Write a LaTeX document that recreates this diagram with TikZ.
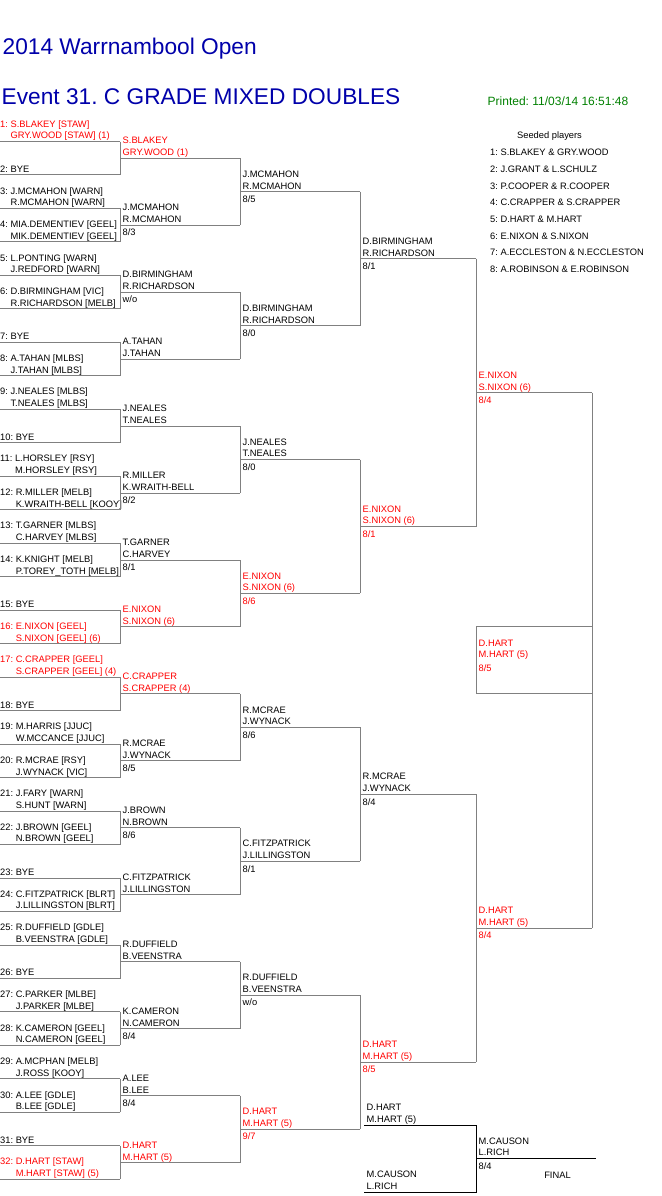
\documentclass[tikz,border=0pt]{standalone}
\usepackage{fontspec}
\setmainfont{Liberation Sans}
\usetikzlibrary{calc}
\frenchspacing

\definecolor{titleblue}{RGB}{0,0,170}
\definecolor{printgreen}{RGB}{0,128,0}
\definecolor{seedred}{RGB}{255,0,0}
\definecolor{linegray}{RGB}{128,128,128}

\tikzset{
  bkt/.style={draw=linegray, line width=1pt},
  finalbkt/.style={draw=black, line width=1pt},
  lbl/.style={anchor=base west, inner sep=0pt, font=\fontsize{9.33}{11}\selectfont},
  seeded/.style={text=seedred},
  heading/.style={anchor=base west, inner sep=0pt, text=titleblue, font=\fontsize{22.7}{26}\selectfont}
}

\newcommand{\drawentry}[4]{%
  \coordinate (r1-#1-w) at (0,{141.5+(#1-1)*33.48});
  \coordinate (r1-#1) at (120,{141.5+(#1-1)*33.48});
  \draw[bkt] (r1-#1-w) -- (r1-#1);
  \node[lbl,#2] (r1-#1-a) at ($(r1-#1-w)+(0,-14.4)$) {#1: #3};
  \node[lbl,#2] (r1-#1-b) at ($(r1-#1-w)+(0,-2.6)$) {\phantom{#1: }#4};}
\newcommand{\drawbye}[1]{%
  \coordinate (r1-#1-w) at (0,{141.5+(#1-1)*33.48});
  \coordinate (r1-#1) at (120,{141.5+(#1-1)*33.48});
  \draw[bkt] (r1-#1-w) -- (r1-#1);
  \node[lbl] (r1-#1-b) at ($(r1-#1-w)+(0,-2.6)$) {#1: BYE};}
\newcommand{\pairlabels}[4]{%
  \node[lbl,#2] (#1-a) at ($(#1-w)+(2.5,-14.4)$) {#3};
  \node[lbl,#2] (#1-b) at ($(#1-w)+(2.5,-2.6)$) {#4};}
\newcommand{\drawwinner}[7]{%
  \draw[bkt] (#2) -- (#3);
  \coordinate (#1-w) at ($(#2)!.5!(#3)$);
  \coordinate (#1) at ($(#1-w)+(#4,0)$);
  \draw[bkt] (#1-w) -- (#1);
  \pairlabels{#1}{#5}{#6}{#7}}
\newcommand{\drawscore}[3]{%
  \node[lbl,#2] (#1-s) at ($(#1-w)+(2.5,10.7)$) {#3};}

\begin{document}
\begin{tikzpicture}[x=1pt,y=-1pt]
  \useasboundingbox (0,0) rectangle (661,1196);

  \node[heading] (title) at (2.5,54.3) {2014 Warrnambool Open};
  \node[heading] (event) at (1.5,105) {Event 31. C GRADE MIXED DOUBLES};
  \node[anchor=base west, inner sep=0pt, text=printgreen, font=\fontsize{12}{14}\selectfont]
    (printed) at (487.5,105.5) {Printed: 11/03/14 16:51:48};

  \node[lbl, anchor=base] (seedhead) at (549.5,138.7) {Seeded players};
  \node[lbl] (seed1) at (490,155.6) {1: S.BLAKEY \& GRY.WOOD};
  \node[lbl] (seed2) at (490,172.3) {2: J.GRANT \& L.SCHULZ};
  \node[lbl] (seed3) at (490,189.0) {3: P.COOPER \& R.COOPER};
  \node[lbl] (seed4) at (490,205.7) {4: C.CRAPPER \& S.CRAPPER};
  \node[lbl] (seed5) at (490,222.4) {5: D.HART \& M.HART};
  \node[lbl] (seed6) at (490,239.1) {6: E.NIXON \& S.NIXON};
  \node[lbl] (seed7) at (490,255.8) {7: A.ECCLESTON \& N.ECCLESTON};
  \node[lbl] (seed8) at (490,272.5) {8: A.ROBINSON \& E.ROBINSON};

  \drawentry{1}{seeded}{S.BLAKEY [STAW]}{GRY.WOOD [STAW] (1)}
  \drawbye{2}
  \drawentry{3}{}{J.MCMAHON [WARN]}{R.MCMAHON [WARN]}
  \drawentry{4}{}{MIA.DEMENTIEV [GEEL]}{MIK.DEMENTIEV [GEEL]}
  \drawentry{5}{}{L.PONTING [WARN]}{J.REDFORD [WARN]}
  \drawentry{6}{}{D.BIRMINGHAM [VIC]}{R.RICHARDSON [MELB]}
  \drawbye{7}
  \drawentry{8}{}{A.TAHAN [MLBS]}{J.TAHAN [MLBS]}
  \drawentry{9}{}{J.NEALES [MLBS]}{T.NEALES [MLBS]}
  \drawbye{10}
  \drawentry{11}{}{L.HORSLEY [RSY]}{M.HORSLEY [RSY]}
  \drawentry{12}{}{R.MILLER [MELB]}{K.WRAITH-BELL [KOOY]}
  \drawentry{13}{}{T.GARNER [MLBS]}{C.HARVEY [MLBS]}
  \drawentry{14}{}{K.KNIGHT [MELB]}{P.TOREY\_TOTH [MELB]}
  \drawbye{15}
  \drawentry{16}{seeded}{E.NIXON [GEEL]}{S.NIXON [GEEL] (6)}
  \drawentry{17}{seeded}{C.CRAPPER [GEEL]}{S.CRAPPER [GEEL] (4)}
  \drawbye{18}
  \drawentry{19}{}{M.HARRIS [JJUC]}{W.MCCANCE [JJUC]}
  \drawentry{20}{}{R.MCRAE [RSY]}{J.WYNACK [VIC]}
  \drawentry{21}{}{J.FARY [WARN]}{S.HUNT [WARN]}
  \drawentry{22}{}{J.BROWN [GEEL]}{N.BROWN [GEEL]}
  \drawbye{23}
  \drawentry{24}{}{C.FITZPATRICK [BLRT]}{J.LILLINGSTON [BLRT]}
  \drawentry{25}{}{R.DUFFIELD [GDLE]}{B.VEENSTRA [GDLE]}
  \drawbye{26}
  \drawentry{27}{}{C.PARKER [MLBE]}{J.PARKER [MLBE]}
  \drawentry{28}{}{K.CAMERON [GEEL]}{N.CAMERON [GEEL]}
  \drawentry{29}{}{A.MCPHAN [MELB]}{J.ROSS [KOOY]}
  \drawentry{30}{}{A.LEE [GDLE]}{B.LEE [GDLE]}
  \drawbye{31}
  \drawentry{32}{seeded}{D.HART [STAW]}{M.HART [STAW] (5)}

  \drawwinner{r2-1}{r1-1}{r1-2}{120}{seeded}{S.BLAKEY}{GRY.WOOD (1)}
  \drawwinner{r2-2}{r1-3}{r1-4}{120}{}{J.MCMAHON}{R.MCMAHON}
  \drawscore{r2-2}{}{8/3}
  \drawwinner{r2-3}{r1-5}{r1-6}{120}{}{D.BIRMINGHAM}{R.RICHARDSON}
  \drawscore{r2-3}{}{w/o}
  \drawwinner{r2-4}{r1-7}{r1-8}{120}{}{A.TAHAN}{J.TAHAN}
  \drawwinner{r2-5}{r1-9}{r1-10}{120}{}{J.NEALES}{T.NEALES}
  \drawwinner{r2-6}{r1-11}{r1-12}{120}{}{R.MILLER}{K.WRAITH-BELL}
  \drawscore{r2-6}{}{8/2}
  \drawwinner{r2-7}{r1-13}{r1-14}{120}{}{T.GARNER}{C.HARVEY}
  \drawscore{r2-7}{}{8/1}
  \drawwinner{r2-8}{r1-15}{r1-16}{120}{seeded}{E.NIXON}{S.NIXON (6)}
  \drawwinner{r2-9}{r1-17}{r1-18}{120}{seeded}{C.CRAPPER}{S.CRAPPER (4)}
  \drawwinner{r2-10}{r1-19}{r1-20}{120}{}{R.MCRAE}{J.WYNACK}
  \drawscore{r2-10}{}{8/5}
  \drawwinner{r2-11}{r1-21}{r1-22}{120}{}{J.BROWN}{N.BROWN}
  \drawscore{r2-11}{}{8/6}
  \drawwinner{r2-12}{r1-23}{r1-24}{120}{}{C.FITZPATRICK}{J.LILLINGSTON}
  \drawwinner{r2-13}{r1-25}{r1-26}{120}{}{R.DUFFIELD}{B.VEENSTRA}
  \drawwinner{r2-14}{r1-27}{r1-28}{120}{}{K.CAMERON}{N.CAMERON}
  \drawscore{r2-14}{}{8/4}
  \drawwinner{r2-15}{r1-29}{r1-30}{120}{}{A.LEE}{B.LEE}
  \drawscore{r2-15}{}{8/4}
  \drawwinner{r2-16}{r1-31}{r1-32}{120}{seeded}{D.HART}{M.HART (5)}

  \drawwinner{r3-1}{r2-1}{r2-2}{120}{}{J.MCMAHON}{R.MCMAHON}
  \drawscore{r3-1}{}{8/5}
  \drawwinner{r3-2}{r2-3}{r2-4}{120}{}{D.BIRMINGHAM}{R.RICHARDSON}
  \drawscore{r3-2}{}{8/0}
  \drawwinner{r3-3}{r2-5}{r2-6}{120}{}{J.NEALES}{T.NEALES}
  \drawscore{r3-3}{}{8/0}
  \drawwinner{r3-4}{r2-7}{r2-8}{120}{seeded}{E.NIXON}{S.NIXON (6)}
  \drawscore{r3-4}{seeded}{8/6}
  \drawwinner{r3-5}{r2-9}{r2-10}{120}{}{R.MCRAE}{J.WYNACK}
  \drawscore{r3-5}{}{8/6}
  \drawwinner{r3-6}{r2-11}{r2-12}{120}{}{C.FITZPATRICK}{J.LILLINGSTON}
  \drawscore{r3-6}{}{8/1}
  \drawwinner{r3-7}{r2-13}{r2-14}{120}{}{R.DUFFIELD}{B.VEENSTRA}
  \drawscore{r3-7}{}{w/o}
  \drawwinner{r3-8}{r2-15}{r2-16}{120}{seeded}{D.HART}{M.HART (5)}
  \drawscore{r3-8}{seeded}{9/7}

  \drawwinner{r4-1}{r3-1}{r3-2}{116}{}{D.BIRMINGHAM}{R.RICHARDSON}
  \drawscore{r4-1}{}{8/1}
  \drawwinner{r4-2}{r3-3}{r3-4}{116}{seeded}{E.NIXON}{S.NIXON (6)}
  \drawscore{r4-2}{seeded}{8/1}
  \drawwinner{r4-3}{r3-5}{r3-6}{116}{}{R.MCRAE}{J.WYNACK}
  \drawscore{r4-3}{}{8/4}
  \drawwinner{r4-4}{r3-7}{r3-8}{116}{seeded}{D.HART}{M.HART (5)}
  \drawscore{r4-4}{seeded}{8/5}

  \drawwinner{r5-1}{r4-1}{r4-2}{116}{seeded}{E.NIXON}{S.NIXON (6)}
  \drawscore{r5-1}{seeded}{8/4}
  \drawwinner{r5-2}{r4-3}{r4-4}{116}{seeded}{D.HART}{M.HART (5)}
  \drawscore{r5-2}{seeded}{8/4}

  \draw[bkt] (r5-1) -- (r5-2);
  \coordinate (champ) at ($(r5-1)!.5!(r5-2)$);
  \coordinate (champ-w) at ($(champ)+(-116,0)$);
  \draw[bkt] ($(champ-w)+(0,-33.5)$) rectangle ($(champ)+(0,33.5)$);
  \pairlabels{champ}{seeded}{D.HART}{M.HART (5)}
  \drawscore{champ}{seeded}{8/5}

  \coordinate (fa-w) at (364,1125);
  \coordinate (fa) at (476,1125);
  \coordinate (fb-w) at (364,1192);
  \coordinate (fb) at (476,1192);
  \draw[finalbkt] (fa-w) -- (fa) -- (fb) -- (fb-w);
  \pairlabels{fa}{}{D.HART}{M.HART (5)}
  \pairlabels{fb}{}{M.CAUSON}{L.RICH}
  \coordinate (fw-w) at ($(fa)!.5!(fb)$);
  \coordinate (fw) at ($(fw-w)+(120,0)$);
  \draw[finalbkt] (fw-w) -- (fw);
  \pairlabels{fw}{}{M.CAUSON}{L.RICH}
  \drawscore{fw}{}{8/4}
  \node[lbl, anchor=base] (finallbl) at (557.5,1178.3) {FINAL};
\end{tikzpicture}
\end{document}
